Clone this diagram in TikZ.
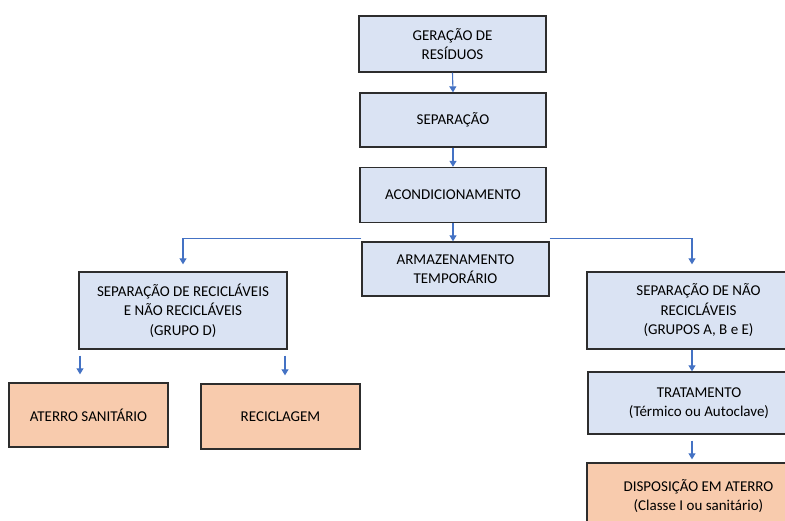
\documentclass[tikz,border=0pt]{standalone}
\usepackage{fontspec}
\setmainfont{Carlito}
\usetikzlibrary{arrows.meta,positioning,calc}
\definecolor{paleblue}{RGB}{218,227,243}
\definecolor{peach}{RGB}{248,203,173}
\definecolor{linkblue}{RGB}{68,114,196}
\definecolor{frame}{RGB}{45,45,45}
\tikzset{
  >={Triangle[length=6pt,width=7pt]},
  box/.style={draw=frame,fill=#1,line width=1.3pt,align=center,
    font=\fontsize{15}{19.5}\selectfont,inner sep=0pt},
  box/.default=paleblue,
  flow/.style={->,draw=linkblue,line width=1.1pt},
}
\begin{document}
\begin{tikzpicture}[x=1pt,y=1pt]
        \useasboundingbox (0,0) rectangle (785,521);
        % main column
        \node[box,minimum width=187pt,minimum height=56pt] (ger) at (452.5,477) {GERAÇÃO DE\\RESÍDUOS};
        \node[box,minimum width=186pt,minimum height=54pt] (sep) at (453,401) {SEPARAÇÃO};
        \node[box,minimum width=186pt,minimum height=55pt] (acon) at (453,326) {ACONDICIONAMENTO};
        \node[box,minimum width=187pt,minimum height=54pt] (arm) at (455.5,252) {ARMAZENAMENTO\\TEMPORÁRIO};
        % left branch
        \node[box,minimum width=208pt,minimum height=77pt] (sepd) at (183,210.5) {SEPARAÇÃO DE RECICLÁVEIS\\E NÃO RECICLÁVEIS\\(GRUPO D)};
        \node[box=peach,minimum width=159pt,minimum height=64pt] (ater) at (88.5,106) {ATERRO SANITÁRIO};
        \node[box=peach,minimum width=159pt,minimum height=65pt] (recic) at (280.5,104.5) {RECICLAGEM};
        % right branch
        \node[box,minimum width=223pt,minimum height=77pt] (sepn) at (698.5,210.5) {SEPARAÇÃO DE NÃO\\RECICLÁVEIS\\(GRUPOS A, B e E)};
        \node[box,minimum width=222pt,minimum height=62pt] (trat) at (699,118) {TRATAMENTO\\(Térmico ou Autoclave)};
        \node[box=peach,minimum width=223pt,minimum height=66pt] (disp) at (698.5,25) {DISPOSIÇÃO EM ATERRO\\(Classe I ou sanitário)};

        \draw[flow] (ger.south) -- (sep.north);
        \draw[flow] (sep.south) -- (acon.north);
        \draw[flow] (acon.south) -- (acon.south |- arm.north);
        \draw[flow,shorten >=7pt] ([yshift=3pt]arm.north west) -| (sepd.north);
        \draw[flow,shorten >=7pt] ([yshift=3pt]arm.north east) -| ([xshift=-6.5pt]sepn.north);
        \draw[flow,shorten <=6pt,shorten >=8pt] ([xshift=-8.5pt]ater.north |- sepd.south) -- ([xshift=-8.5pt]ater.north);
        \draw[flow,shorten <=6pt,shorten >=8pt] ([xshift=4.5pt]recic.north |- sepd.south) -- ([xshift=4.5pt]recic.north);
        \draw[flow] ([xshift=-6.5pt]sepn.south) -- ([xshift=-7pt]trat.north);
        \draw[flow,shorten <=6pt,shorten >=3pt] ([xshift=-7pt]trat.south) -- ([xshift=-6.5pt]disp.north);
      \end{tikzpicture}
\end{document}
